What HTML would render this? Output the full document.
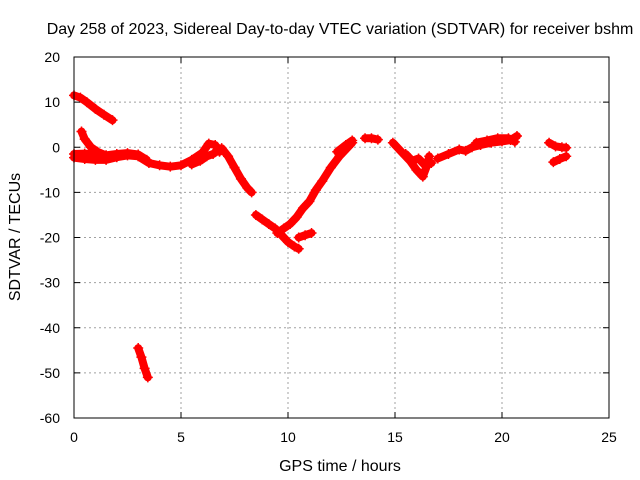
<!DOCTYPE html>
<html><head><meta charset="utf-8"><style>
body{margin:0;background:#fff}
svg{display:block;font-family:"Liberation Sans",sans-serif}
</style></head><body>
<svg id="chart" width="640" height="480">
<rect x="0" y="0" width="640" height="480" fill="#fff"/>
<text x="340" y="34" font-size="16" text-anchor="middle">Day 258 of 2023, Sidereal Day-to-day VTEC variation (SDTVAR) for receiver bshm</text>
<text x="340" y="471" font-size="16" text-anchor="middle">GPS time / hours</text>
<text transform="translate(20,237) rotate(-90)" font-size="16" text-anchor="middle">SDTVAR / TECUs</text>
<g id="grid"></g><g id="marks"></g><g id="axes"></g>
</svg>
<script>
const xTicks=[0,5,10,15,20,25];
const yTicks=[20,10,0,-10,-20,-30,-40,-50,-60];
const trackA_t=[0,0.3,0.6,1,1.4,1.8];
const trackA_v=[11.5,11,10,8.5,7.2,6];
const trackB_t=[0.35,0.5,0.8,1.1,1.5,2];
const trackB_v=[3.5,1.8,0,-1,-1.8,-2.2];
const trackC_t=[0,0.5,1,1.5,2,2.5,3,3.5,4,4.5,5,5.5,6,6.3,6.6,6.8];
const trackC_v=[-2.3,-2.6,-2.8,-2.8,-2.2,-1.8,-2,-3.5,-4,-4.3,-4,-2.8,-1.2,0.8,0.5,-1];
const trackC2_t=[0,0.5,1,1.5,2,2.5,3,3.4];
const trackC2_v=[-1.5,-1.4,-1.6,-1.8,-1.5,-1.3,-1.6,-2.8];
const trackD_t=[5.5,5.9,6.2,6.5,6.8];
const trackD_v=[-3.8,-3,-2,-1.5,-0.5];
const trackE_t=[6.9,7.2,7.5,7.8,8.1,8.3];
const trackE_v=[-0.2,-2,-4.5,-7,-9,-10];
const trackF_t=[8.5,8.8,9.1,9.4,9.7,10,10.3,10.5];
const trackF_v=[-15,-16,-17,-18,-19.5,-21,-22,-22.5];
const trackG_t=[9.5,9.8,10.1,10.4,10.7,11,11.3,11.6,12,12.4,12.8,13];
const trackG_v=[-19,-18,-17,-15.5,-13.5,-12,-9.5,-7.5,-4.5,-2,0,1];
const trackH_t=[10.5,10.8,11.1];
const trackH_v=[-20,-19.5,-19];
const trackI_t=[12.3,12.7,13];
const trackI_v=[-1,0.5,1.5];
const trackJ_t=[13.6,13.9,14.2];
const trackJ_v=[2,2,1.7];
const trackK_t=[14.9,15.3,15.7,16,16.3,16.5,16.6];
const trackK_v=[1,-1,-3,-5,-6.5,-4,-2];
const trackL_t=[15.5,15.8,16.1,16.4,16.7];
const trackL_v=[-1.5,-3,-2.5,-4,-3.5];
const trackM_t=[17,17.5,18,18.3,18.6,19,19.5,20,20.4,20.7];
const trackM_v=[-2.5,-1.5,-0.5,-0.8,0,0.5,1,1.3,1.6,2.5];
const trackM2_t=[18.8,19.3,19.8,20.3,20.6];
const trackM2_v=[1,1.5,2,2,1.2];
const trackN_t=[22.2,22.5,22.8,23];
const trackN_v=[1,0.2,0,-0.1];
const trackO_t=[22.4,22.7,23];
const trackO_v=[-3.3,-2.6,-2];
const trackP_t=[3,3.15,3.3,3.45];
const trackP_v=[-44.5,-46.5,-49,-51];
const tracks=[[trackA_t,trackA_v],[trackB_t,trackB_v],[trackC_t,trackC_v],[trackC2_t,trackC2_v],[trackD_t,trackD_v],[trackE_t,trackE_v],[trackF_t,trackF_v],[trackG_t,trackG_v],[trackH_t,trackH_v],[trackI_t,trackI_v],[trackJ_t,trackJ_v],[trackK_t,trackK_v],[trackL_t,trackL_v],[trackM_t,trackM_v],[trackM2_t,trackM2_v],[trackN_t,trackN_v],[trackO_t,trackO_v],[trackP_t,trackP_v]];
const X0=74,X1=609,Y0=57,Y1=418;
const xs=t=>X0+(t-0)/25*(X1-X0);
const ys=v=>Y0+(20-v)/80*(Y1-Y0);
const NS="http://www.w3.org/2000/svg";
const grid=document.getElementById('grid'),axes=document.getElementById('axes'),marks=document.getElementById('marks');
function mk(tag,attrs,parent){const e=document.createElementNS(NS,tag);for(const k in attrs)e.setAttribute(k,attrs[k]);parent.appendChild(e);return e;}
xTicks.forEach(t=>{const x=xs(t);
 if(t>0&&t<25){const g=mk('line',{x1:x,x2:x,y1:Y0,y2:Y1,stroke:'#a0a0a0','stroke-dasharray':'2,3'},grid);
 
 }
 const tl=mk('text',{x:x,y:Y1+24,'font-size':14,'text-anchor':'middle'},axes);tl.textContent=t;
 
 
 mk('line',{x1:x,x2:x,y1:Y1,y2:Y1-6,stroke:'#000'},axes);mk('line',{x1:x,x2:x,y1:Y0,y2:Y0+6,stroke:'#000'},axes);});
yTicks.forEach(v=>{const y=ys(v);
 if(v<20&&v>-60){const g=mk('line',{x1:X0,x2:X1,y1:y,y2:y,stroke:'#a0a0a0','stroke-dasharray':'2,3'},grid);
 
 }
 const tl=mk('text',{x:X0-14,y:y+5,'font-size':14,'text-anchor':'end'},axes);tl.textContent=v;
 
 
 mk('line',{x1:X0,x2:X0+6,y1:y,y2:y,stroke:'#000'},axes);mk('line',{x1:X1,x2:X1-6,y1:y,y2:y,stroke:'#000'},axes);});
const frame=mk('rect',{x:X0,y:Y0,width:X1-X0,height:Y1-Y0,fill:'none',stroke:'#000'},axes);


tracks.forEach(([T,V])=>{
 const d=T.map((t,i)=>(i?'L':'M')+xs(t).toFixed(1)+','+ys(V[i]).toFixed(1)).join(' ');
 const p=mk('path',{d:d,fill:'none',stroke:'#f00','stroke-width':8,'stroke-linecap':'round','stroke-linejoin':'round'},marks);
 
 
 T.forEach((t,i)=>{const x=xs(t),y=ys(V[i]);
  const m=mk('path',{d:`M${x-5},${y}H${x+5}M${x},${y-5}V${y+5}`,stroke:'#f00','stroke-width':1.5},marks);
  
  });
});
</script>
</body></html>
